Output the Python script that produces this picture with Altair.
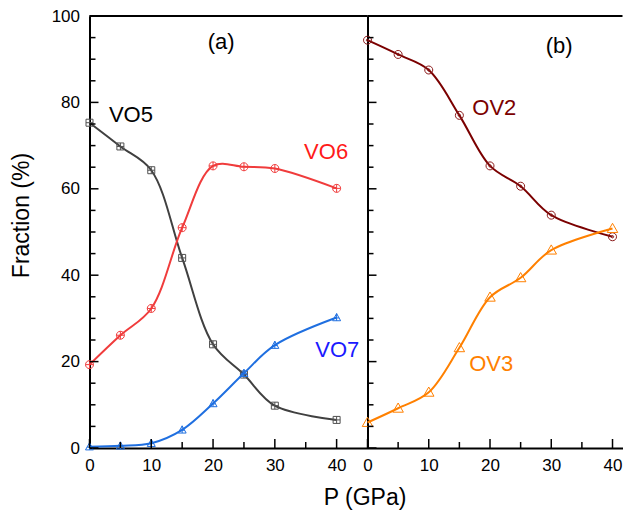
import altair as alt
import pandas as pd

# ---- data ----
P = [0, 5, 10, 15, 20, 25, 30, 40]
vo5 = [75.3, 69.8, 64.3, 44.0, 24.0, 17.0, 9.8, 6.5]
vo6 = [19.3, 26.1, 32.3, 51.0, 65.3, 65.1, 64.7, 60.1]
vo7 = [0.3, 0.5, 1.1, 4.2, 10.3, 17.3, 23.8, 30.2]
ov2 = [94.4, 91.1, 87.5, 77.0, 65.3, 60.6, 53.9, 48.9]
ov3 = [5.9, 9.2, 12.9, 23.2, 34.9, 39.4, 45.8, 50.8]

y_major = [0, 20, 40, 60, 80, 100]
y_minor = [5, 10, 15, 25, 30, 35, 45, 50, 55, 65, 70, 75, 85, 90, 95]
x_major = [0, 10, 20, 30, 40]
x_minor = [5, 15, 25, 35]

left_labels = ["(a)", "VO5", "VO6", "VO7"]
left_lx = [21.3, 6.7, 38.3, 40.1]
left_ly = [94.0, 77.0, 68.6, 22.7]
left_lc = ["black", "black", "#ff1a1a", "#1a1aff"]

right_labels = ["(b)", "OV2", "OV3"]
right_lx = [31.3, 20.7, 20.2]
right_ly = [93.1, 78.8, 19.4]
right_lc = ["black", "#7b0000", "#ff8000"]

# marker paths (unit square -1..1)
SQ_PLUS = "M-1,-1H1V1H-1Z M-1,0H1 M0,-1V1"
CI_PLUS = "M-1,0A1,1,0,1,0,1,0A1,1,0,1,0,-1,0Z M-1,0H1 M0,-1V1"
TR_PLUS = "M0,-1L1,0.8L-1,0.8Z M-0.65,0.1H0.65 M0,-1V0.8"
CI_DOT = "M-1,0A1,1,0,1,0,1,0A1,1,0,1,0,-1,0Z M-0.3,0A0.3,0.3,0,1,0,0.3,0A0.3,0.3,0,1,0,-0.3,0Z"
TRI = "M0,-1L1,0.75L-1,0.75Z"

FONT = "Liberation Sans"
WL, WR, H = 278, 255, 432
YS = alt.Scale(domain=[0, 100], nice=False, zero=False)
XSL = alt.Scale(domain=[0, 45], nice=False, zero=False)
XSR = alt.Scale(domain=[0, 41.63], nice=False, zero=False)


def series_layers(vals, xs, xa, ya, line_color, mark_color, shape, size):
    df = pd.DataFrame({"P": P, "value": vals})
    line = alt.Chart(df).mark_line(
        interpolate="catmull-rom", color=line_color, strokeWidth=2
    ).encode(
        x=alt.X("P:Q", scale=xs, axis=xa),
        y=alt.Y("value:Q", scale=YS, axis=ya),
    )
    pts = alt.Chart(df).mark_point(
        shape=shape, size=size, filled=False, color=mark_color, strokeWidth=1, opacity=1
    ).encode(
        x=alt.X("P:Q", scale=xs, axis=xa),
        y=alt.Y("value:Q", scale=YS, axis=ya),
    )
    return [line, pts]


def tick_layers(xs, xa, ya, width):
    out = []
    for vals, ln in [(y_major, 9), (y_minor, 6)]:
        out.append(alt.Chart(pd.DataFrame({"v": vals})).mark_rule(
            color="black", strokeWidth=1.5).encode(
            y=alt.Y("v:Q", scale=YS, axis=ya), x=alt.value(0), x2=alt.value(ln)))
    for vals, ln in [(x_major, 9), (x_minor, 6)]:
        out.append(alt.Chart(pd.DataFrame({"v": vals})).mark_rule(
            color="black", strokeWidth=1.5).encode(
            x=alt.X("v:Q", scale=xs, axis=xa), y=alt.value(H), y2=alt.value(H - ln)))
    out.append(alt.Chart(pd.DataFrame({"v": [0]})).mark_rule(
        color="black", strokeWidth=2).encode(
        y=alt.value(0), x=alt.value(0), x2=alt.value(width)))
    return out


def text_layer(labels, lx, ly, lc, xs, xa, ya):
    df = pd.DataFrame({"t": labels, "x": lx, "y": ly, "c": lc})
    return alt.Chart(df).mark_text(font=FONT, fontSize=22, baseline="middle",
                                   align="center").encode(
        x=alt.X("x:Q", scale=xs, axis=xa),
        y=alt.Y("y:Q", scale=YS, axis=ya),
        text="t:N",
        color=alt.Color("c:N", scale=None),
    )


xaxis_left = alt.Axis(values=x_major, ticks=False, tickSize=0, labelPadding=9,
                      labelFontSize=17, labelFlush=False, labelOverlap=False,
                      domainWidth=2, domainColor="black", grid=False,
                      title="P (GPa)", titleX=275, titleY=49, titleBaseline="middle",
                      titleAlign="center", titleFontSize=23, titleFontWeight="normal")
yaxis_left = alt.Axis(values=y_major, ticks=False, tickSize=0, labelPadding=10,
                      labelFontSize=17, labelFlush=False, labelOverlap=False,
                      domainWidth=2, domainColor="black", grid=False,
                      title="Fraction (%)", titleX=-68, titleY=199,
                      titleBaseline="middle", titleAlign="center",
                      titleFontSize=23, titleFontWeight="normal")
xaxis_right = alt.Axis(values=x_major, ticks=False, tickSize=0, labelPadding=9,
                       labelFontSize=17, labelFlush=False, labelOverlap=False,
                       domainWidth=2, domainColor="black", grid=False, title=None)
yaxis_right = alt.Axis(values=y_major, ticks=False, tickSize=0, labels=False,
                       domainWidth=2, domainColor="black", grid=False, title=None)

left_layers = []
left_layers += series_layers(vo5, XSL, xaxis_left, yaxis_left, "#404040", "#505050", SQ_PLUS, 49)
left_layers += series_layers(vo6, XSL, xaxis_left, yaxis_left, "#f03c3c", "#f03c3c", CI_PLUS, 64)
left_layers += series_layers(vo7, XSL, xaxis_left, yaxis_left, "#1f6fe0", "#1f6fe0", TR_PLUS, 64)
left_layers += tick_layers(XSL, xaxis_left, yaxis_left, WL)
left_layers.append(text_layer(left_labels, left_lx, left_ly, left_lc, XSL, xaxis_left, yaxis_left))
left = alt.layer(*left_layers).properties(width=WL, height=H)

right_layers = []
right_layers += series_layers(ov2, XSR, xaxis_right, yaxis_right, "#7b0000", "#8b1a1a", CI_DOT, 64)
right_layers += series_layers(ov3, XSR, xaxis_right, yaxis_right, "#ff8000", "#ff8000", TRI, 110)
right_layers += tick_layers(XSR, xaxis_right, yaxis_right, WR)
right_layers.append(text_layer(right_labels, right_lx, right_ly, right_lc, XSR, xaxis_right, yaxis_right))
right = alt.layer(*right_layers).properties(width=WR, height=H)

chart = alt.hconcat(left, right, spacing=0, bounds="flush").properties(
    padding={"left": 2.5, "top": -1, "right": 0, "bottom": 1}
).configure_view(stroke=None).configure_axis(
    labelFont=FONT, titleFont=FONT, labelColor="black", titleColor="black"
)

chart.save("out.html", embed_options={"renderer": "svg", "actions": False})
